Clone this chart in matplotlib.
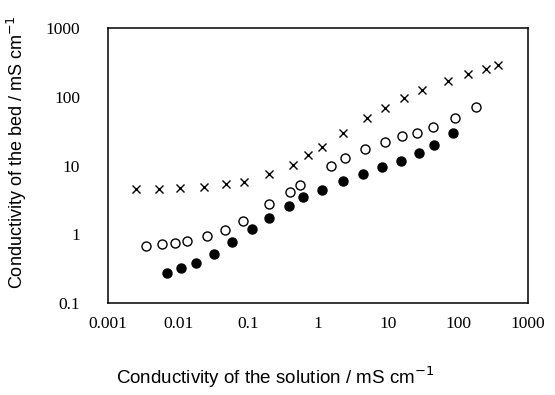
import matplotlib.pyplot as plt
import numpy as np

# Bed conductivity vs solution conductivity (mS/cm)
x_cross = [0.0025, 0.0054, 0.0107, 0.0235, 0.0485, 0.088, 0.2, 0.44, 0.72, 1.14,
           2.27, 5.0, 9.06, 16.9, 30.6, 72, 139, 251, 372]
y_cross = [4.55, 4.55, 4.71, 4.87, 5.38, 5.75, 7.5, 10.2, 14.2, 18.6,
           29.7, 49.1, 68.6, 95.9, 125, 169, 214, 254, 290]

x_open = [0.00349, 0.0059, 0.00906, 0.01346, 0.026, 0.0469, 0.085, 0.2, 0.398, 0.553,
          1.53, 2.43, 4.69, 9.06, 15.8, 25.9, 44, 90.6, 181]
y_open = [0.675, 0.72, 0.746, 0.798, 0.944, 1.15, 1.56, 2.75, 4.12, 5.2,
          9.84, 12.9, 17.4, 22.0, 26.9, 29.7, 36.3, 49.1, 71]

x_fill = [0.00697, 0.011, 0.0181, 0.0327, 0.059, 0.114, 0.2, 0.385, 0.611, 1.14,
          2.27, 4.39, 8.2, 15.3, 27.7, 45.4, 84.8]
y_fill = [0.273, 0.323, 0.382, 0.516, 0.771, 1.19, 1.72, 2.58, 3.48, 4.4,
          5.95, 7.52, 9.5, 11.6, 15.2, 19.9, 29.7]

xticks = [0.001, 0.01, 0.1, 1, 10, 100, 1000]
xticklabels = ['0.001', '0.01', '0.1', '1', '10', '100', '1000']
yticks = [0.1, 1, 10, 100, 1000]
yticklabels = ['0.1', '1', '10', '100', '1000']

fig = plt.figure(figsize=(5.55, 3.95), dpi=100)
ax = fig.add_axes([0.1946, 0.2329, 0.7568, 0.6962])

ax.plot(x_cross, y_cross, 'x', color='black', ms=6, mew=1.0, linestyle='none')
ax.plot(x_open, y_open, 'o', mfc='white', mec='black', ms=6.5, mew=1.0, linestyle='none')
ax.plot(x_fill, y_fill, 'o', color='black', ms=6.5, linestyle='none')

ax.set_xscale('log')
ax.set_yscale('log')
ax.set_xlim(0.001, 1000)
ax.set_ylim(0.1, 1000)

ax.set_xticks(xticks)
ax.set_xticklabels(xticklabels, family='Liberation Serif', fontsize=12.5)
ax.set_yticks(yticks)
ax.set_yticklabels(yticklabels, family='Liberation Serif', fontsize=12.5)
ax.minorticks_off()
ax.tick_params(length=0)
ax.tick_params(axis='x', pad=9)
ax.tick_params(axis='y', pad=20)

for s in ax.spines.values():
    s.set_linewidth(1.1)

ax.set_xlabel('Conductivity of the solution / mS cm$^{-1}$', family='Liberation Sans',
              fontsize=13.5)
ax.set_ylabel('Conductivity of the bed / mS cm$^{-1}$', family='Liberation Sans',
              fontsize=13)
# labels in the original sit off-centre
ax.xaxis.set_label_coords(0.398, -0.225)
ax.yaxis.set_label_coords(-0.188, 0.55)

fig.savefig('out.png', dpi=100)
